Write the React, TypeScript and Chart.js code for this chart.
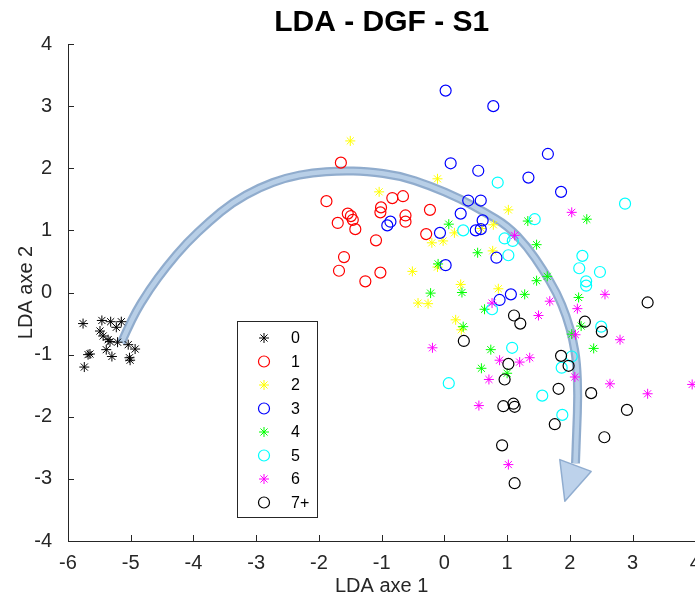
import React, { useEffect, useRef } from "react";
import { Chart, registerables } from "chart.js";

Chart.register(...registerables);

const TITLE = "LDA - DGF - S1";
const X_LABEL = "LDA axe 1";
const Y_LABEL = "LDA axe 2";
const X_MIN = -6;
const X_MAX = 4;
const Y_MIN = -4;
const Y_MAX = 4;

const CLASS_LABELS = ["0", "1", "2", "3", "4", "5", "6", "7+"];
const CLASS_COLORS = ["#000000", "#ff0000", "#ffff00", "#0000ff", "#00ff00", "#00ffff", "#ff00ff", "#000000"];
const CLASS_MARKERS = ["star", "circle", "star", "circle", "star", "circle", "star", "circle"];

const C0_X = [-5.76, -5.46, -5.32, -5.15, -5.23, -5.49, -5.44, -5.36, -5.33, -5.21, -5.04, -4.93, -5.39, -5.65, -5.68, -5.30, -5.02, -5.01, -5.74];
const C0_Y = [-0.50, -0.45, -0.47, -0.47, -0.56, -0.62, -0.70, -0.76, -0.79, -0.80, -0.84, -0.91, -0.92, -0.99, -1.00, -1.03, -1.05, -1.09, -1.20];

const C1_X = [-1.65, -1.88, -1.54, -1.49, -1.46, -1.70, -1.42, -1.01, -1.02, -0.83, -0.66, -0.62, -0.62, -0.23, -0.29, -1.09, -1.60, -1.68, -1.26, -1.02];
const C1_Y = [2.09, 1.47, 1.27, 1.23, 1.17, 1.12, 1.02, 1.37, 1.29, 1.52, 1.55, 1.24, 1.14, 1.33, 0.94, 0.84, 0.57, 0.35, 0.18, 0.32];

const C2_X = [-1.50, -1.04, -0.11, 1.02, 0.78, 0.59, 0.16, -0.02, -0.20, 0.77, -0.51, -0.11, 0.26, 0.86, -0.42, -0.26, 0.18, 0.27];
const C2_Y = [2.44, 1.62, 1.83, 1.33, 1.09, 1.03, 0.96, 0.83, 0.80, 0.67, 0.34, 0.41, 0.13, 0.06, -0.17, -0.18, -0.44, -0.60];

const C3_X = [0.02, 0.78, 1.65, 0.10, 0.54, 1.34, 1.86, 0.38, 0.58, 0.26, 0.61, 0.50, 0.58, -0.07, 0.83, 0.02, -0.91, -0.86, 1.06, 0.88];
const C3_Y = [3.25, 3.00, 2.23, 2.08, 1.96, 1.85, 1.62, 1.48, 1.48, 1.27, 1.16, 1.00, 1.02, 0.96, 0.56, 0.44, 1.08, 1.14, -0.03, -0.12];

const C4_X = [0.07, 1.33, 2.27, 0.53, 1.47, -0.10, -0.22, 0.28, 1.47, 1.64, 1.28, 2.14, 0.64, 0.30, 2.18, 2.03, 2.38, 0.74, 0.59, 1.00];
const C4_Y = [1.10, 1.15, 1.18, 0.64, 0.77, 0.46, -0.01, 0.00, 0.19, 0.26, -0.03, -0.08, -0.27, -0.55, -0.54, -0.67, -0.90, -0.92, -1.22, -1.30];

const C5_X = [0.85, 2.88, 1.44, 0.30, 0.96, 1.09, 1.02, 2.20, 2.15, 2.48, 2.26, 2.26, 0.76, 2.50, 1.08, 2.03, 1.87, 0.07, 1.56, 1.88];
const C5_Y = [1.77, 1.43, 1.18, 1.00, 0.87, 0.83, 0.60, 0.59, 0.39, 0.33, 0.18, 0.11, -0.27, -0.55, -0.89, -1.03, -1.21, -1.46, -1.66, -1.97];

const C6_X = [2.03, 1.12, 2.56, 1.68, 0.76, 2.12, 1.50, 2.09, 2.80, -0.19, 0.88, 1.20, 1.36, 2.08, 0.71, 2.64, 3.24, 3.95, 0.55, 1.02];
const C6_Y = [1.29, 0.92, -0.03, -0.14, -0.17, -0.26, -0.37, -0.68, -0.76, -0.89, -1.09, -1.12, -1.05, -1.36, -1.40, -1.47, -1.63, -1.48, -1.82, -2.77];

const C7_X = [3.24, 1.11, 1.21, 2.24, 2.51, 0.31, 1.86, 1.02, 1.98, 0.96, 1.82, 2.34, 2.91, 0.94, 1.10, 1.12, 1.76, 0.92, 2.55, 1.12];
const C7_Y = [-0.16, -0.37, -0.50, -0.47, -0.63, -0.78, -1.02, -1.15, -1.18, -1.40, -1.55, -1.62, -1.89, -1.83, -1.79, -1.84, -2.12, -2.46, -2.33, -3.07];

const CLASS_X = [C0_X, C1_X, C2_X, C3_X, C4_X, C5_X, C6_X, C7_X];
const CLASS_Y = [C0_Y, C1_Y, C2_Y, C3_Y, C4_Y, C5_Y, C6_Y, C7_Y];

// curved arrow annotation (data coordinates)
const ARROW_X = [-5.15, -4.97, -4.70, -4.43, -4.11, -3.75, -3.38, -2.95, -2.52, -2.10, -1.67, -1.24, -0.71, -0.23, 0.25, 0.63, 1.00, 1.32, 1.57, 1.79, 1.95, 2.05, 2.11, 2.13, 2.11, 2.09];
const ARROW_Y = [-0.81, -0.39, 0.05, 0.42, 0.80, 1.14, 1.45, 1.69, 1.85, 1.93, 1.96, 1.95, 1.88, 1.72, 1.51, 1.30, 1.08, 0.74, 0.37, 0.00, -0.39, -0.76, -1.13, -1.67, -2.20, -2.75];
const ARROW_HEAD_X = [1.84, 2.34, 1.92];
const ARROW_HEAD_Y = [-2.69, -2.88, -3.36];

const FONT = "'Liberation Sans', Arial, Helvetica, sans-serif";
const AXIS_COLOR = "#262626";

const titlePlugin = {
  id: "plotTitle",
  afterDraw(chart: any) {
    const { ctx, chartArea } = chart;
    ctx.save();
    ctx.font = `bold 30px ${FONT}`;
    ctx.fillStyle = "#000000";
    ctx.textAlign = "center";
    ctx.textBaseline = "middle";
    ctx.fillText(TITLE, (chartArea.left + chartArea.right) / 2, 23);
    ctx.restore();
  },
};

const tickMarksPlugin = {
  id: "tickMarks",
  afterDraw(chart: any) {
    const { ctx, chartArea, scales } = chart;
    const len = 6;
    ctx.save();
    ctx.strokeStyle = AXIS_COLOR;
    ctx.lineWidth = 1;
    ctx.beginPath();
    scales.x.ticks.forEach((t: any) => {
      const px = Math.round(scales.x.getPixelForValue(t.value)) + 0.5;
      ctx.moveTo(px, chartArea.bottom);
      ctx.lineTo(px, chartArea.bottom - len);
    });
    scales.y.ticks.forEach((t: any) => {
      const py = Math.round(scales.y.getPixelForValue(t.value)) + 0.5;
      ctx.moveTo(chartArea.left, py);
      ctx.lineTo(chartArea.left + len, py);
    });
    ctx.stroke();
    ctx.restore();
  },
};

function smoothPath(ctx: CanvasRenderingContext2D, pts: { x: number; y: number }[]) {
  ctx.moveTo(pts[0].x, pts[0].y);
  for (let i = 1; i < pts.length - 1; i++) {
    const mx = (pts[i].x + pts[i + 1].x) / 2;
    const my = (pts[i].y + pts[i + 1].y) / 2;
    ctx.quadraticCurveTo(pts[i].x, pts[i].y, mx, my);
  }
  const last = pts[pts.length - 1];
  ctx.lineTo(last.x, last.y);
}

const arrowPlugin = {
  id: "curvedArrow",
  beforeDatasetsDraw(chart: any) {
    const { ctx, scales } = chart;
    const pts = ARROW_X.map((x, i) => ({ x: scales.x.getPixelForValue(x), y: scales.y.getPixelForValue(ARROW_Y[i]) }));
    const head = ARROW_HEAD_X.map((x, i) => ({ x: scales.x.getPixelForValue(x), y: scales.y.getPixelForValue(ARROW_HEAD_Y[i]) }));
    ctx.save();
    ctx.lineCap = "butt";
    ctx.lineJoin = "round";
    ctx.beginPath();
    smoothPath(ctx, pts);
    ctx.strokeStyle = "rgba(125,158,196,0.85)";
    ctx.lineWidth = 9;
    ctx.stroke();
    ctx.beginPath();
    smoothPath(ctx, pts);
    ctx.strokeStyle = "rgba(190,212,235,0.9)";
    ctx.lineWidth = 4.5;
    ctx.stroke();
    ctx.beginPath();
    ctx.moveTo(head[0].x, head[0].y);
    ctx.lineTo(head[1].x, head[1].y);
    ctx.lineTo(head[2].x, head[2].y);
    ctx.closePath();
    ctx.fillStyle = "rgba(185,208,234,0.95)";
    ctx.fill();
    ctx.strokeStyle = "rgba(140,170,205,0.95)";
    ctx.lineWidth = 1.5;
    ctx.stroke();
    ctx.restore();
  },
};

function drawMarker(ctx: CanvasRenderingContext2D, style: string, x: number, y: number, color: string) {
  ctx.save();
  ctx.strokeStyle = color;
  ctx.beginPath();
  if (style === "circle") {
    ctx.lineWidth = 1.2;
    ctx.arc(x, y, 5.5, 0, Math.PI * 2);
  } else {
    ctx.lineWidth = 1;
    const r = 5;
    const d = r * Math.SQRT1_2;
    ctx.moveTo(x - r, y); ctx.lineTo(x + r, y);
    ctx.moveTo(x, y - r); ctx.lineTo(x, y + r);
    ctx.moveTo(x - d, y - d); ctx.lineTo(x + d, y + d);
    ctx.moveTo(x - d, y + d); ctx.lineTo(x + d, y - d);
  }
  ctx.stroke();
  ctx.restore();
}

const boxLegendPlugin = {
  id: "boxLegend",
  afterDraw(chart: any) {
    const { ctx, chartArea } = chart;
    const left = chartArea.left + 169;
    const top = chartArea.top + 277;
    const w = 80;
    const rowH = 23.5;
    const h = 196;
    ctx.save();
    ctx.fillStyle = "#ffffff";
    ctx.fillRect(left, top, w, h);
    ctx.strokeStyle = AXIS_COLOR;
    ctx.lineWidth = 1;
    ctx.strokeRect(Math.round(left) + 0.5, Math.round(top) + 0.5, w, h);
    ctx.font = `16px ${FONT}`;
    ctx.textBaseline = "middle";
    ctx.textAlign = "left";
    chart.data.datasets.forEach((ds: any, i: number) => {
      const cy = top + 17 + i * rowH;
      drawMarker(ctx, CLASS_MARKERS[i], left + 27, cy, CLASS_COLORS[i]);
      ctx.fillStyle = "#000000";
      ctx.fillText(ds.label, left + 54, cy + 1);
    });
    ctx.restore();
  },
};

export default function App() {
  const canvasRef = useRef<HTMLCanvasElement | null>(null);

  useEffect(() => {
    if (!canvasRef.current) return;
    const datasets = CLASS_LABELS.map((label, i) => ({
      label,
      data: CLASS_X[i].map((x, j) => ({ x, y: CLASS_Y[i][j] })),
      pointStyle: CLASS_MARKERS[i],
      pointRadius: CLASS_MARKERS[i] === "circle" ? 5.5 : 5,
      pointBorderWidth: CLASS_MARKERS[i] === "circle" ? 1.2 : 1,
      borderColor: CLASS_COLORS[i],
      backgroundColor: "rgba(0,0,0,0)",
      showLine: false,
      order: CLASS_LABELS.length - i,
    }));

    const chart = new Chart(canvasRef.current, {
      type: "scatter",
      data: { datasets },
      options: {
        animation: false,
        responsive: false,
        devicePixelRatio: 1,
        events: [],
        layout: { padding: { left: 0, right: 0, top: 44, bottom: 0 } },
        plugins: {
          legend: { display: false },
          tooltip: { enabled: false },
          title: { display: false },
        },
        scales: {
          x: {
            type: "linear",
            min: X_MIN,
            max: X_MAX,
            ticks: { stepSize: 1, color: AXIS_COLOR, font: { family: FONT, size: 20 }, padding: 2, maxRotation: 0 },
            grid: { display: false },
            border: { display: true, color: AXIS_COLOR, width: 1 },
            title: { display: true, text: X_LABEL, color: AXIS_COLOR, font: { family: FONT, size: 20 }, padding: { top: 0, bottom: 2 } },
            afterFit(scale: any) {
              scale.paddingLeft = 0;
              scale.paddingRight = 0;
              scale.height = 59;
            },
          },
          y: {
            type: "linear",
            min: Y_MIN,
            max: Y_MAX,
            ticks: { stepSize: 1, color: AXIS_COLOR, font: { family: FONT, size: 20 }, padding: 8 },
            grid: { display: false },
            border: { display: true, color: AXIS_COLOR, width: 1 },
            title: { display: true, text: Y_LABEL, color: AXIS_COLOR, font: { family: FONT, size: 20 }, padding: { top: 14, bottom: 0 } },
            afterFit(scale: any) {
              scale.width = 68;
            },
          },
        },
      } as any,
      plugins: [arrowPlugin, tickMarksPlugin, boxLegendPlugin, titlePlugin],
    });
    return () => chart.destroy();
  }, []);

  return (
    <div style={{ position: "absolute", left: 0, top: 0, width: 695, height: 600, overflow: "hidden", background: "#ffffff" }}>
      <canvas ref={canvasRef} width={702} height={600} style={{ display: "block" }} />
    </div>
  );
}
